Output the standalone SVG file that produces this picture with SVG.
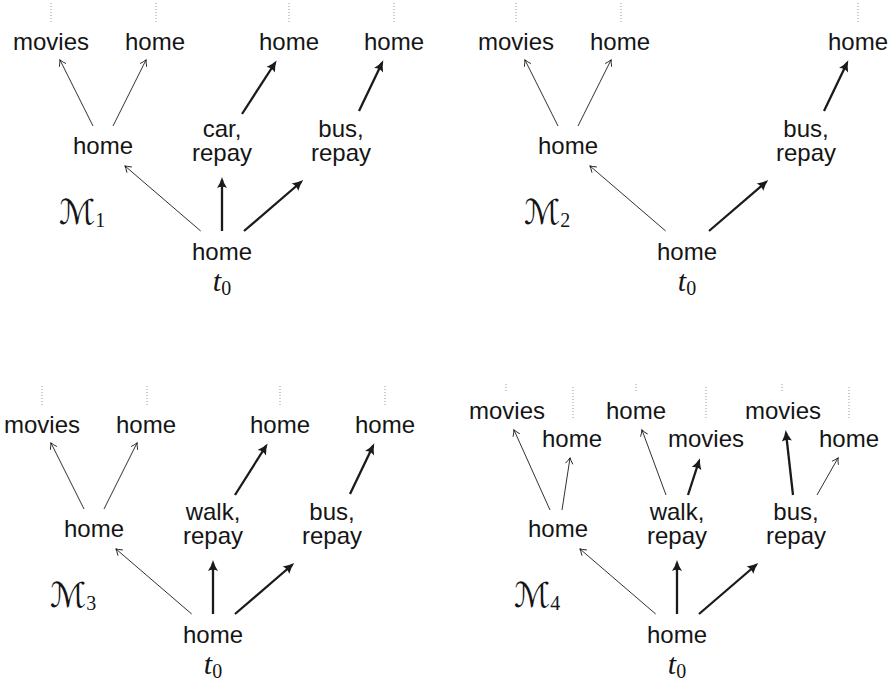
<svg xmlns="http://www.w3.org/2000/svg" width="890" height="689" viewBox="0 0 890 689">
<style>
.n{font-family:"Liberation Sans","DejaVu Sans",sans-serif;font-size:24px;fill:#151515;text-anchor:middle}
.m{font-family:"Liberation Serif","DejaVu Serif",serif;font-style:italic;font-size:30px;fill:#151515}
.cal{font-family:"DejaVu Sans",serif;font-style:normal;font-size:34px;fill:#151515}
.sub{font-family:"Liberation Serif","DejaVu Serif",serif;font-style:normal;font-size:20px}
.dot{stroke:#999;stroke-width:1;stroke-dasharray:1 2;fill:none}
.thin{stroke:#1a1a1a;stroke-width:0.9;fill:none;marker-end:url(#aThin)}
.thick{stroke:#1a1a1a;stroke-width:2.3;fill:none;marker-end:url(#aThick)}
</style>
<defs>
<marker id="aThin" viewBox="-8 -5 12 10" refX="0" refY="0" markerWidth="12" markerHeight="10" orient="auto" markerUnits="userSpaceOnUse">
<path d="M-5.5,-3.5 Q-2,-0.9 0.3,0 Q-2,0.9 -5.5,3.5" fill="none" stroke="#1a1a1a" stroke-width="0.9" stroke-linecap="round"/>
</marker>
<marker id="aThick" viewBox="-12 -7 16 14" refX="0" refY="0" markerWidth="16" markerHeight="14" orient="auto" markerUnits="userSpaceOnUse">
<path d="M-8,-5 Q-3,-1.6 3,0 Q-3,1.6 -8,5 Q-5.5,0 -8,-5Z" fill="#1a1a1a"/>
</marker>
</defs>

<!-- Panel 1 -->
<g id="p1-dots">
<line class="dot" x1="51" y1="3" x2="51" y2="22"/><line class="dot" x1="156" y1="3" x2="156" y2="22"/>
<line class="dot" x1="289" y1="3" x2="289" y2="22"/><line class="dot" x1="394" y1="3" x2="394" y2="22"/>
</g>
<g id="p1-movies"><text class="n" x="51" y="50">movies</text></g>
<g id="p1-home-a"><text class="n" x="155" y="50">home</text></g>
<g id="p1-home-b"><text class="n" x="289" y="50">home</text></g>
<g id="p1-home-c"><text class="n" x="394" y="50">home</text></g>
<g id="p1-home-mid"><text class="n" x="103" y="154">home</text></g>
<g id="p1-car"><text class="n" x="222" y="137">car,<tspan x="222" dy="24">repay</tspan></text></g>
<g id="p1-bus"><text class="n" x="341" y="137">bus,<tspan x="341" dy="24">repay</tspan></text></g>
<g id="p1-root"><text class="n" x="222" y="260">home</text><text class="m" x="222" y="291" text-anchor="middle">t<tspan class="sub" dy="4">0</tspan></text></g>
<g id="p1-label"><text class="cal" x="59" y="224">ℳ<tspan class="sub" dy="3">1</tspan></text></g>

<!-- Panel 2 -->
<g id="p2-dots">
<line class="dot" x1="516" y1="3" x2="516" y2="22"/><line class="dot" x1="621" y1="3" x2="621" y2="22"/>
<line class="dot" x1="858" y1="3" x2="858" y2="22"/>
</g>
<g id="p2-movies"><text class="n" x="516" y="50">movies</text></g>
<g id="p2-home-a"><text class="n" x="620" y="50">home</text></g>
<g id="p2-home-c"><text class="n" x="858" y="50">home</text></g>
<g id="p2-home-mid"><text class="n" x="568" y="154">home</text></g>
<g id="p2-bus"><text class="n" x="806" y="137">bus,<tspan x="806" dy="24">repay</tspan></text></g>
<g id="p2-root"><text class="n" x="687" y="260">home</text><text class="m" x="687" y="291" text-anchor="middle">t<tspan class="sub" dy="4">0</tspan></text></g>
<g id="p2-label"><text class="cal" x="524" y="224">ℳ<tspan class="sub" dy="3">2</tspan></text></g>

<!-- Panel 3 -->
<g id="p3-dots">
<line class="dot" x1="42" y1="386" x2="42" y2="405"/><line class="dot" x1="147" y1="386" x2="147" y2="405"/>
<line class="dot" x1="280" y1="386" x2="280" y2="405"/><line class="dot" x1="385" y1="386" x2="385" y2="405"/>
</g>
<g id="p3-movies"><text class="n" x="42" y="433">movies</text></g>
<g id="p3-home-a"><text class="n" x="146" y="433">home</text></g>
<g id="p3-home-b"><text class="n" x="280" y="433">home</text></g>
<g id="p3-home-c"><text class="n" x="385" y="433">home</text></g>
<g id="p3-home-mid"><text class="n" x="94" y="537">home</text></g>
<g id="p3-walk"><text class="n" x="213" y="520">walk,<tspan x="213" dy="24">repay</tspan></text></g>
<g id="p3-bus"><text class="n" x="332" y="520">bus,<tspan x="332" dy="24">repay</tspan></text></g>
<g id="p3-root"><text class="n" x="213" y="643">home</text><text class="m" x="213" y="674" text-anchor="middle">t<tspan class="sub" dy="4">0</tspan></text></g>
<g id="p3-label"><text class="cal" x="50" y="607">ℳ<tspan class="sub" dy="3">3</tspan></text></g>

<!-- Panel 4 -->
<g id="p4-dots">
<line class="dot" x1="506" y1="384" x2="506" y2="391"/><line class="dot" x1="636" y1="384" x2="636" y2="391"/>
<line class="dot" x1="782" y1="384" x2="782" y2="391"/>
<line class="dot" x1="573" y1="387" x2="573" y2="419"/><line class="dot" x1="706" y1="387" x2="706" y2="419"/>
<line class="dot" x1="849" y1="387" x2="849" y2="419"/>
</g>
<g id="p4-movies-a"><text class="n" x="507" y="419">movies</text></g>
<g id="p4-home-a"><text class="n" x="572" y="447">home</text></g>
<g id="p4-home-b"><text class="n" x="636" y="419">home</text></g>
<g id="p4-movies-b"><text class="n" x="706" y="447">movies</text></g>
<g id="p4-movies-c"><text class="n" x="783" y="419">movies</text></g>
<g id="p4-home-c"><text class="n" x="849" y="447">home</text></g>
<g id="p4-home-mid"><text class="n" x="558" y="537">home</text></g>
<g id="p4-walk"><text class="n" x="677" y="520">walk,<tspan x="677" dy="24">repay</tspan></text></g>
<g id="p4-bus"><text class="n" x="796" y="520">bus,<tspan x="796" dy="24">repay</tspan></text></g>
<g id="p4-root"><text class="n" x="677" y="643">home</text><text class="m" x="677" y="674" text-anchor="middle">t<tspan class="sub" dy="4">0</tspan></text></g>
<g id="p4-label"><text class="cal" x="514" y="607">ℳ<tspan class="sub" dy="3">4</tspan></text></g>

<g id="connectors">
<!-- panel 1 -->
<line class="thin" x1="200.7" y1="231" x2="125" y2="166"/>
<line class="thick" x1="222" y1="231" x2="222" y2="180"/>
<line class="thick" x1="244" y1="231" x2="301" y2="182"/>
<line class="thin" x1="93" y1="126" x2="60" y2="60"/>
<line class="thin" x1="113" y1="126" x2="146" y2="60"/>
<line class="thick" x1="242" y1="114" x2="275" y2="63"/>
<line class="thick" x1="359" y1="111" x2="382" y2="63"/>
<!-- panel 2 -->
<line class="thin" x1="665.7" y1="231" x2="590" y2="166"/>
<line class="thick" x1="709" y1="231" x2="766" y2="182"/>
<line class="thin" x1="558" y1="126" x2="525" y2="60"/>
<line class="thin" x1="578" y1="126" x2="611" y2="60"/>
<line class="thick" x1="824" y1="111" x2="847" y2="63"/>
<!-- panel 3 -->
<line class="thin" x1="191.7" y1="614" x2="116" y2="549"/>
<line class="thick" x1="213" y1="614" x2="213" y2="563"/>
<line class="thick" x1="235" y1="614" x2="292" y2="565"/>
<line class="thin" x1="84" y1="509" x2="51" y2="443"/>
<line class="thin" x1="104" y1="509" x2="137" y2="443"/>
<line class="thick" x1="235" y1="495" x2="266" y2="446"/>
<line class="thick" x1="350" y1="494" x2="373" y2="446"/>
<!-- panel 4 -->
<line class="thin" x1="655.7" y1="614" x2="580" y2="549"/>
<line class="thick" x1="677" y1="614" x2="677" y2="563"/>
<line class="thick" x1="699" y1="614" x2="756" y2="565"/>
<line class="thin" x1="550" y1="510" x2="514" y2="430"/>
<line class="thin" x1="562" y1="510" x2="570" y2="458"/>
<line class="thin" x1="666" y1="495" x2="642" y2="430"/>
<line class="thick" x1="688" y1="495" x2="699" y2="461"/>
<line class="thick" x1="793" y1="495" x2="786" y2="433"/>
<line class="thin" x1="817" y1="495" x2="838" y2="458"/>
</g>
</svg>
